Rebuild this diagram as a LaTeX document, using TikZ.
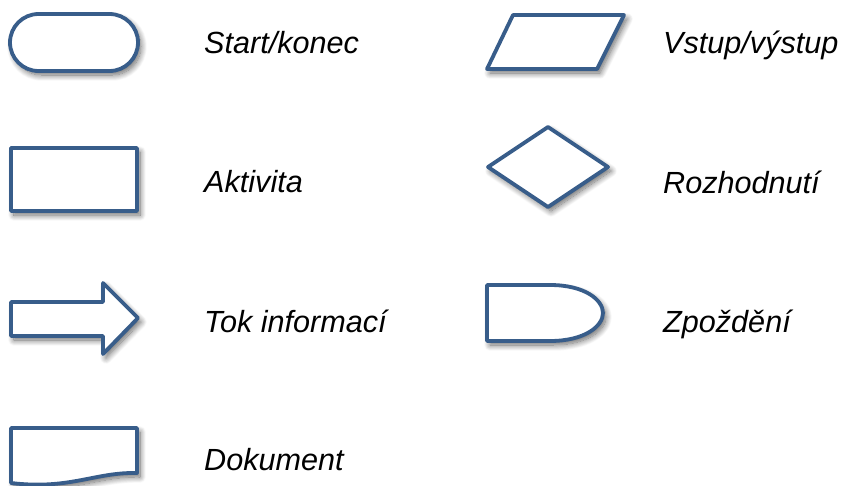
\documentclass[tikz,border=0pt]{standalone}
\usepackage{fontspec}
\setmainfont{Liberation Sans}
\usetikzlibrary{shadows.blur}
\definecolor{symblue}{RGB}{56,93,138}
\tikzset{
  sym/.style={draw=symblue, line width=3.8pt, line join=round, fill=white,
    blur shadow={shadow xshift=3pt, shadow yshift=-4pt, shadow blur radius=6pt,
      shadow blur steps=12, shadow opacity=60}},
  lbl/.style={anchor=base west, inner sep=0pt, font=\fontsize{30.6}{35}\selectfont\itshape}
}
\begin{document}
\begin{tikzpicture}[x=1pt, y=-1pt]
  \useasboundingbox (0,0) rectangle (841,485);

  % terminator
  \draw[sym] (38.5,14) -- (109.5,14) arc[start angle=-90, end angle=90, radius=28.5]
    -- (38.5,71) arc[start angle=90, end angle=270, radius=28.5] -- cycle;
  \node[lbl] (t1) at (204,53) {Start/konec};

  % input / output
  \draw[sym] (513,15) -- (624,15) -- (597,69) -- (487,69) -- cycle;
  \node[lbl] (t2) at (663,53) {Vstup/výstup};

  % process
  \draw[sym] (11,148) rectangle (137,211);
  \node[lbl] (t3) at (204,192) {Aktivita};

  % decision
  \draw[sym] (488,167) -- (548,127) -- (608,167) -- (548,207) -- cycle;
  \node[lbl] (t4) at (663,193) {Rozhodnutí};

  % information flow
  \draw[sym] (11,302) -- (103,302) -- (103,283) -- (138,318) -- (103,354)
    -- (103,336) -- (11,336) -- cycle;
  \node[lbl] (t5) at (204,332) {Tok informací};

  % delay
  \draw[sym] (487,285) -- (550,285) .. controls (585,285) and (603,300) .. (603,313)
    .. controls (603,326) and (585,341) .. (550,341) -- (487,341) -- cycle;
  \node[lbl] (t6) at (663,332) {Zpoždění};

  % document
  \draw[sym] (11,483) -- (11,428) -- (137,428) -- (137,473)
    .. controls (95,472) and (70,490) .. (11,483) -- cycle;
  \node[lbl] (t7) at (204,470) {Dokument};
\end{tikzpicture}
\end{document}
